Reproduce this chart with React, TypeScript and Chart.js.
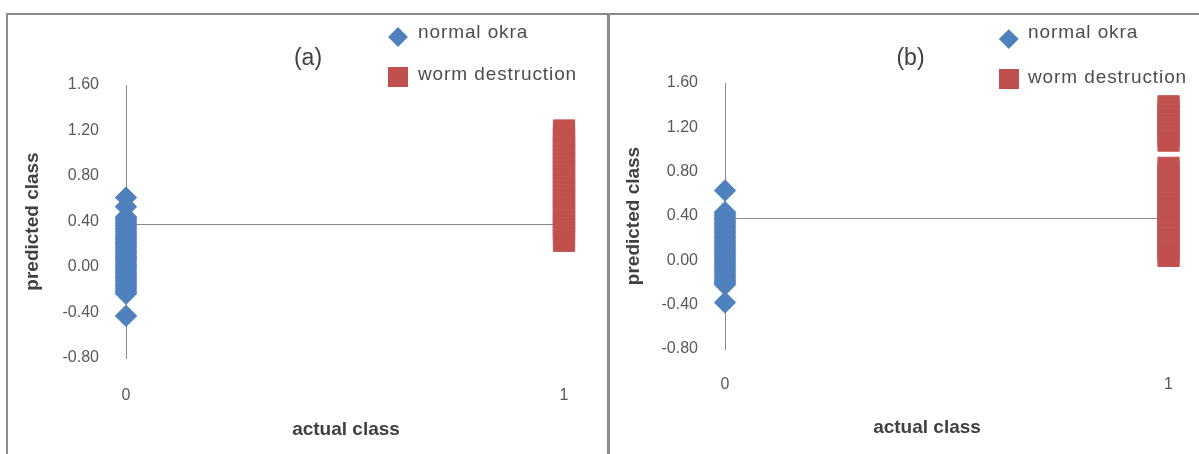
import React, { useEffect, useRef } from 'react';
import { Chart, registerables } from 'chart.js';

Chart.register(...registerables);

// ---------- data ----------
const NORMAL_CLASS = 0;
const WORM_CLASS = 1;
const xClassRange = [0, 1];
const yRange = [-0.8, 1.6];
const yStep = 0.4;
const axisCrossing = 0.38;

const seriesNames = ['normal okra', 'worm destruction'];
const panelTitles = ['(a)', '(b)'];
const xAxisTitle = 'actual class';
const yAxisTitle = 'predicted class';

const predictedNormalA = [
  0.61, 0.53, 0.44, 0.43, 0.415, 0.4, 0.385, 0.37, 0.355, 0.34, 0.33, 0.315, 0.3, 0.285, 0.27,
  0.255, 0.24, 0.225, 0.21, 0.2, 0.185, 0.17, 0.155, 0.14, 0.125, 0.11, 0.095, 0.08, 0.07,
  0.055, 0.04, 0.025, 0.01, 0.0, -0.015, -0.03, -0.045, -0.06, -0.075, -0.09, -0.1, -0.115,
  -0.13, -0.145, -0.16, -0.175, -0.19, -0.205, -0.22, -0.235, -0.43,
];
const predictedWormA = [
  1.2, 1.17, 1.13, 1.1, 1.06, 1.03, 0.99, 0.95, 0.92, 0.88, 0.85, 0.81, 0.78, 0.74, 0.7,
  0.67, 0.63, 0.6, 0.56, 0.52, 0.49, 0.45, 0.41, 0.38, 0.34, 0.31, 0.27, 0.23,
];
const predictedNormalB = [
  0.63, 0.435, 0.42, 0.405, 0.39, 0.375, 0.36, 0.345, 0.33, 0.315, 0.3, 0.285, 0.27, 0.255,
  0.24, 0.225, 0.21, 0.195, 0.18, 0.165, 0.15, 0.135, 0.12, 0.105, 0.09, 0.075, 0.06, 0.045,
  0.03, 0.015, 0.0, -0.015, -0.03, -0.045, -0.06, -0.075, -0.09, -0.105, -0.12, -0.135,
  -0.15, -0.165, -0.18, -0.195, -0.21, -0.22, -0.38,
];
const predictedWormB = [
  1.39, 1.35, 1.31, 1.27, 1.23, 1.19, 1.15, 1.12, 1.08, 0.835, 0.8, 0.76, 0.72, 0.68, 0.64,
  0.6, 0.56, 0.52, 0.48, 0.44, 0.4, 0.36, 0.32, 0.28, 0.24, 0.2, 0.16, 0.12, 0.08, 0.04,
];

// ---------- style ----------
const BLUE = '#4F81BD';
const RED = '#C0504D';
const RED_EDGE = '#C35753';
const AXIS = '#8a8a8a';
const TICK = '#595959';
const TITLE = '#404040';
const FONT = '"Liberation Sans", Arial, sans-serif';

const crossLinePlugin = {
  id: 'crossLine',
  beforeDatasetsDraw(chart: any, _args: any, opts: any) {
    const { ctx, scales } = chart;
    const x = scales.x;
    const y = scales.y;
    const py = Math.round(y.getPixelForValue(opts.value)) + 0.5;
    ctx.save();
    ctx.strokeStyle = opts.color;
    ctx.lineWidth = 1;
    ctx.beginPath();
    ctx.moveTo(x.getPixelForValue(x.min), py);
    ctx.lineTo(x.getPixelForValue(x.max), py);
    ctx.stroke();
    ctx.restore();
  },
};

type Layout = {
  left: number;
  width: number;
  padTop: number;
  padRight: number;
  yWidth: number;
  xHeight: number;
  xTickPad: number;
  yTitlePad: number;
};

function ScatterPanel({ layout, normal, worm }: { layout: Layout; normal: number[]; worm: number[] }) {
  const ref = useRef<HTMLCanvasElement>(null);
  useEffect(() => {
    const chart = new Chart(ref.current as HTMLCanvasElement, {
      type: 'scatter',
      data: {
        datasets: [
          {
            label: seriesNames[0],
            data: normal.map((v) => ({ x: NORMAL_CLASS, y: v })),
            pointStyle: 'rectRot',
            pointRadius: 10.7,
            backgroundColor: BLUE,
            borderColor: BLUE,
            borderWidth: 1,
            clip: false,
          } as any,
          {
            label: seriesNames[1],
            data: worm.map((v) => ({ x: WORM_CLASS, y: v })),
            pointStyle: 'rect',
            pointRadius: 15,
            backgroundColor: RED,
            borderColor: RED_EDGE,
            borderWidth: 1,
            clip: false,
          } as any,
        ],
      },
      options: {
        animation: false,
        responsive: false,
        events: [],
        layout: { padding: { top: layout.padTop, right: layout.padRight, left: 0, bottom: 0 } },
        plugins: {
          legend: { display: false },
          tooltip: { enabled: false },
          title: { display: false },
          crossLine: { value: axisCrossing, color: AXIS },
        } as any,
        scales: {
          x: {
            type: 'linear',
            min: xClassRange[0],
            max: xClassRange[1],
            grid: { display: false, drawTicks: false },
            border: { display: false },
            ticks: {
              stepSize: 1,
              padding: layout.xTickPad,
              color: TICK,
              font: { family: FONT, size: 16 },
            },
            afterFit: (s: any) => {
              s.height = layout.xHeight;
            },
          },
          y: {
            type: 'linear',
            min: yRange[0],
            max: yRange[1],
            grid: { display: false, drawTicks: false },
            border: { display: true, color: AXIS, width: 1 },
            ticks: {
              stepSize: yStep,
              padding: 27,
              color: TICK,
              font: { family: FONT, size: 16 },
              callback: (v: any) => (Math.abs(Number(v)) < 1e-9 ? '0.00' : Number(v).toFixed(2)),
            },
            title: {
              display: true,
              text: yAxisTitle,
              color: TITLE,
              font: { family: FONT, size: 19, weight: 'bold' },
              padding: { top: layout.yTitlePad, bottom: 0 },
            },
            afterFit: (s: any) => {
              s.width = layout.yWidth;
            },
          },
        },
      } as any,
      plugins: [crossLinePlugin],
    });
    return () => chart.destroy();
  }, []);
  return (
    <canvas
      ref={ref}
      width={layout.width}
      height={454}
      style={{ position: 'absolute', left: layout.left, top: 0, width: layout.width, height: 454, display: 'block' }}
    />
  );
}

const layoutA: Layout = { left: 0, width: 609, padTop: 85, padRight: 45, yWidth: 126, xHeight: 96, xTickPad: 28, yTitlePad: 21.6 };
const layoutB: Layout = { left: 609, width: 590, padTop: 83, padRight: 23, yWidth: 116, xHeight: 105, xTickPad: 26, yTitlePad: 13.6 };

const abs = (o: React.CSSProperties): React.CSSProperties => ({ position: 'absolute', whiteSpace: 'nowrap', ...o });

function Overlay({ titleX, legendX, legendTextX, legendTop2, sqTop, sqSize, diamondY, diamondSide, xTitleX, xTitleTop, title }: any) {
  const legendFont: React.CSSProperties = { fontFamily: FONT, fontSize: 19, lineHeight: 1, color: '#4d4d4d', letterSpacing: '0.9px' };
  return (
    <>
      <div style={abs({ left: titleX, top: 45.6, transform: 'translateX(-50%)', fontFamily: FONT, fontSize: 23, lineHeight: 1, color: TITLE })}>{title}</div>
      <div
        style={abs({
          left: legendX + sqSize / 2 - diamondSide / 2,
          top: diamondY - diamondSide / 2,
          width: diamondSide,
          height: diamondSide,
          background: BLUE,
          transform: 'rotate(45deg)',
        })}
      />
      <div style={abs({ left: legendTextX, top: 22.2, ...legendFont })}>{seriesNames[0]}</div>
      <div style={abs({ left: legendX, top: sqTop, width: sqSize, height: sqSize, background: RED })} />
      <div style={abs({ left: legendTextX, top: legendTop2, ...legendFont })}>{seriesNames[1]}</div>
      <div style={abs({ left: xTitleX, top: xTitleTop, transform: 'translateX(-50%)', fontFamily: FONT, fontSize: 19, fontWeight: 'bold', lineHeight: 1, color: TITLE })}>
        {xAxisTitle}
      </div>
    </>
  );
}

export default function App() {
  return (
    <div style={{ position: 'absolute', left: 0, top: 0, width: 1199, height: 454, background: '#fff', overflow: 'hidden' }}>
      <ScatterPanel layout={layoutA} normal={predictedNormalA} worm={predictedWormA} />
      <ScatterPanel layout={layoutB} normal={predictedNormalB} worm={predictedWormB} />
      <Overlay title={panelTitles[0]} titleX={308} legendX={388} legendTextX={418} legendTop2={63.9} sqTop={67} sqSize={20} diamondY={36.5} diamondSide={14} xTitleX={346} xTitleTop={418.9} />
      <Overlay title={panelTitles[1]} titleX={910.5} legendX={999} legendTextX={1028} legendTop2={67.2} sqTop={69} sqSize={20} diamondY={38.3} diamondSide={13.5} xTitleX={927} xTitleTop={417.2} />
      <div style={abs({ left: 6, top: 13, width: 603, height: 470, boxSizing: 'border-box', borderLeft: '2px solid #8a8a8a', borderTop: '2px solid #8a8a8a', borderRight: '2px solid #8a8a8a', pointerEvents: 'none' })} />
      <div style={abs({ left: 608, top: 13, width: 600, height: 470, boxSizing: 'border-box', borderLeft: '2px solid #8a8a8a', borderTop: '2px solid #8a8a8a', pointerEvents: 'none' })} />
    </div>
  );
}
